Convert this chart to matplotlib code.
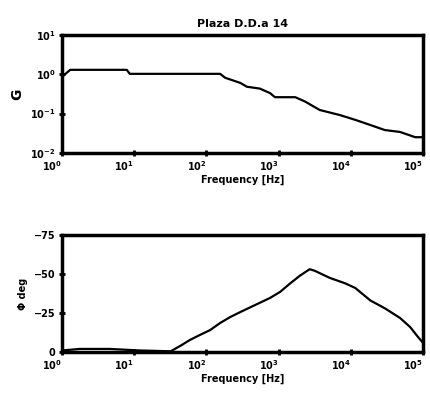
import matplotlib
matplotlib.use("Agg")
import matplotlib.pyplot as plt
import matplotlib.transforms as mtransforms
from matplotlib.ticker import LogLocator, NullLocator, FixedLocator

# gain curve
gain_freq = [1, 1.3, 7.9, 8.7, 155, 182, 295, 363, 550, 760, 890, 1700,
             2340, 3700, 7100, 11500, 18600, 29500, 47900, 77600, 100000]
gain = [0.85, 1.29, 1.29, 1.02, 1.02, 0.81, 0.60, 0.48, 0.43, 0.33, 0.26, 0.26,
        0.20, 0.123, 0.091, 0.069, 0.051, 0.038, 0.034, 0.025, 0.025]

# phase curve, degrees
phase_freq = [1, 1.78, 4.6, 12, 32, 43, 59, 81, 112, 155, 214, 295, 468, 759,
              1050, 1450, 1990, 2690, 3160, 5130, 8300, 11500, 18600, 29500,
              47900, 66100, 85100, 100000]
phase = [-1, -2, -2, -1, -0.5, -3.8, -7.7, -10.9, -14, -18.6, -22.4, -25.6,
         -30, -34.6, -38.5, -44, -49, -53, -52, -47.4, -44, -41, -33, -28,
         -21.8, -16, -9.6, -5.8]

title = "Plaza D.D.a 14"
xlab = "Frequency [Hz]"
phase_ticks = [0, -25, -50, -75]

plt.rcParams['font.family'] = ['DejaVu Sans']
plt.rcParams['font.weight'] = 'bold'
plt.rcParams['font.size'] = 7

fig = plt.figure(figsize=(4.3, 3.96), dpi=100)
ax1 = fig.add_axes([0.144, 0.614, 0.840, 0.298])
ax2 = fig.add_axes([0.144, 0.111, 0.840, 0.296])

ax1.plot(gain_freq, gain, color='black', lw=1.6)
ax1.set_xscale('log')
ax1.set_yscale('log')
ax1.set_xlim(1, 1e5)
ax1.set_ylim(1e-2, 1e1)
ax1.set_title(title, fontweight='bold', fontsize=8, pad=6)
ax1.set_ylabel("G", fontweight='bold', fontsize=10, labelpad=4)
ax1.set_xlabel(xlab, fontweight='bold', labelpad=1)
ax1.yaxis.set_major_locator(LogLocator(base=10, numticks=10))
ax1.yaxis.set_minor_locator(NullLocator())

ax2.plot(phase_freq, phase, color='black', lw=1.6)
ax2.set_xscale('log')
ax2.set_xlim(1, 1e5)
ax2.set_ylim(0, -75)
ax2.yaxis.set_major_locator(FixedLocator(phase_ticks))
ax2.set_ylabel("Φ deg", fontweight='bold', labelpad=4)
ax2.set_xlabel(xlab, fontweight='bold', labelpad=1)

shift = mtransforms.ScaledTranslation(-7 / 72, 0, fig.dpi_scale_trans)
for ax in (ax1, ax2):
    ax.xaxis.set_major_locator(LogLocator(base=10, numticks=10))
    ax.xaxis.set_minor_locator(NullLocator())
    ax.tick_params(direction='inout', length=5, width=2, pad=2)
    for s in ax.spines.values():
        s.set_linewidth(2.5)
    for lbl in ax.get_xticklabels():
        lbl.set_transform(lbl.get_transform() + shift)

fig.savefig("out.png", dpi=100)
